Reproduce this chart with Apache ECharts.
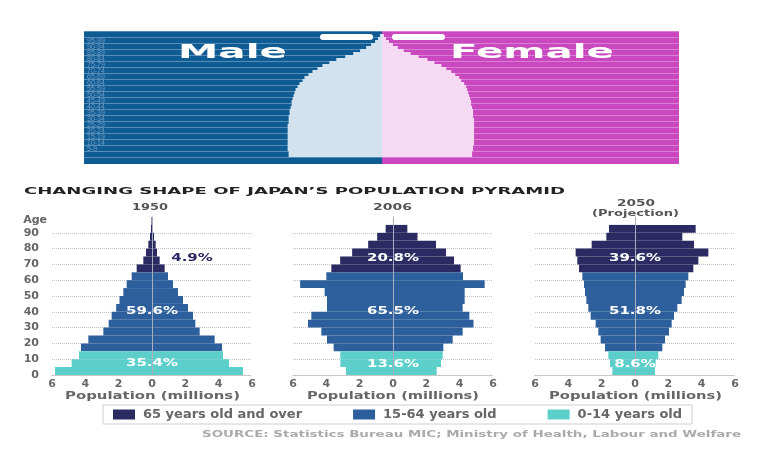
<!DOCTYPE html>
<html>
<head>
<meta charset="utf-8">
<script src="https://cdn.jsdelivr.net/npm/echarts@6/dist/echarts.min.js"></script>
<style>
  html, body { margin: 0; padding: 0; background: #fff; }
  #chart { width: 767px; height: 449px; }
</style>
</head>
<body>
<div id="chart"></div>
<script>
// 5-year age bands, bottom to top
const ageBands = ['0-4', '5-9', '10-14', '15-19', '20-24', '25-29', '30-34', '35-39', '40-44', '45-49',
  '50-54', '55-59', '60-64', '65-69', '70-74', '75-79', '80-84', '85-89', '90-94', '95-99']

// population per band, millions (male drawn to the left)
const male1950 = [5.82, 4.82, 4.38, 4.26, 3.82, 2.92, 2.6, 2.42, 2.15, 1.95, 1.72, 1.52, 1.22, 0.92, 0.52, 0.36, 0.22, 0.12, 0.06, 0.03]
const female1950 = [5.46, 4.62, 4.26, 4.2, 3.76, 2.86, 2.6, 2.46, 2.16, 1.86, 1.56, 1.26, 0.96, 0.76, 0.46, 0.3, 0.22, 0.12, 0.06, 0.03]
const male2006 = [2.82, 3.16, 3.16, 3.56, 3.96, 4.3, 5.1, 4.9, 3.96, 3.96, 4.1, 5.57, 4.0, 3.7, 3.17, 2.45, 1.49, 0.95, 0.44, 0]
const female2006 = [2.62, 2.88, 2.98, 3.02, 3.58, 4.18, 4.83, 4.58, 4.18, 4.3, 4.3, 5.5, 4.2, 4.06, 3.66, 3.18, 2.58, 1.47, 0.86, 0]
const male2050 = [1.36, 1.5, 1.6, 1.8, 2.06, 2.2, 2.36, 2.66, 2.8, 2.92, 3.0, 3.06, 3.16, 3.36, 3.46, 3.56, 2.6, 1.72, 1.56, 0]
const female2050 = [1.2, 1.24, 1.4, 1.64, 1.8, 2.04, 2.2, 2.34, 2.54, 2.8, 2.94, 3.04, 3.2, 3.5, 3.8, 4.4, 3.54, 2.84, 3.64, 0]

const groupNames = ['65 years old and over', '15-64 years old', '0-14 years old']
const groupBands = [[13, 19], [3, 12], [0, 2]]
const groupColors = ['#2b2a63', '#2d5f9c', '#5ccfcb']

const years = ['1950', '2006', '2050']
const shares = [['4.9%', '59.6%', '35.4%'], ['20.8%', '65.5%', '13.6%'], ['39.6%', '51.8%', '8.6%']]

// banner pyramid: 42 half-bands (2.5 years), bottom to top, width index
const bannerAgeGroups = ['0-4', '5-9', '10-14', '15-19', '20-24', '25-29', '30-34', '35-39', '40-44', '45-49',
  '50-54', '55-59', '60-64', '65-69', '70-74', '75-79', '80-84', '85-89', '90-94', '95-99', '100+']
const bannerMale = [94, 94, 95, 95, 95, 95, 95, 95, 95, 95, 95, 94, 94, 94, 93, 93, 92, 91, 91, 90, 89,
  88, 87, 85, 83, 80, 78, 74, 70, 65, 60, 53, 46, 37, 29, 22, 16, 11, 7, 4, 2, 0]
const bannerFemale = [91, 91, 92, 92, 93, 93, 93, 93, 93, 93, 93, 93, 93, 92, 92, 92, 91, 90, 90, 89, 88,
  87, 86, 85, 83, 80, 78, 74, 70, 65, 60, 53, 46, 37, 29, 22, 16, 11, 7, 4, 2, 0]

// layout
const pyrLeft = [52, 293, 535]
const shareAt = [[[2.4, 74], [0, 40], [0, 7.5]], [[0, 74], [0, 40], [0, 7]], [[0, 74], [0, 40], [0, 7]]]
const shareColor = [['#2b2a63', '#fff', '#fff'], ['#fff', '#fff', '#fff'], ['#fff', '#fff', '#fff']]

const chart = echarts.init(document.getElementById('chart'))
const pyramids = [[male1950, female1950], [male2006, female2006], [male2050, female2050]]
const labelFont = 'DejaVu Sans'

const grids = pyrLeft.map(left => ({ left, top: 217, width: 200, height: 158 }))
grids.push({ left: 84, top: 31, width: 298, height: 126 })
grids.push({ left: 382, top: 31, width: 297, height: 126 })

const xAxes = pyrLeft.map((_, i) => ({
  type: 'value',
  gridIndex: i,
  min: -6,
  max: 6,
  interval: 2,
  axisLine: { show: true, onZero: false, lineStyle: { color: '#bbb', type: 'dotted' } },
  axisTick: { show: false },
  splitLine: { show: false },
  axisLabel: {
    formatter: v => Math.abs(v),
    color: '#666',
    fontWeight: 'bold',
    fontSize: 11,
    fontFamily: labelFont,
    margin: 4
  }
}))
xAxes.push({ type: 'value', gridIndex: 3, min: 0, max: 300, inverse: true, show: false })
xAxes.push({ type: 'value', gridIndex: 4, min: 0, max: 300, show: false })

const yAxes = []
pyrLeft.forEach((_, i) => {
  yAxes.push({
    type: 'category',
    gridIndex: i,
    data: ageBands,
    z: 5,
    axisLine: { show: true, onZero: true, lineStyle: { color: '#a9adc0', width: 1 } },
    axisTick: { show: false },
    axisLabel: { show: false },
    splitLine: { show: false }
  })
  yAxes.push({
    type: 'value',
    gridIndex: i,
    min: 0,
    max: 100,
    interval: 10,
    position: 'left',
    name: i === 0 ? 'Age' : '',
    nameLocation: 'end',
    nameGap: -3,
    nameTextStyle: {
      align: 'right', verticalAlign: 'middle', padding: [0, 5, 0, 0],
      color: '#666', fontWeight: 'bold', fontSize: 11, fontFamily: labelFont
    },
    axisLine: { show: false },
    axisTick: { show: false },
    axisLabel: {
      show: i === 0,
      formatter: v => (v === 100 ? '' : v),
      color: '#666',
      fontWeight: 'bold',
      fontSize: 11,
      fontFamily: labelFont,
      margin: 13
    },
    splitLine: {
      show: true,
      showMinLine: false,
      showMaxLine: false,
      lineStyle: { type: 'dotted', color: '#c4c4cc' }
    }
  })
})

const bannerBands = bannerMale.map((_, k) => String(k))
yAxes.push({
  type: 'category',
  gridIndex: 3,
  data: bannerBands,
  position: 'left',
  axisLine: { show: false, onZero: false },
  axisTick: { show: false },
  axisLabel: {
    inside: true,
    interval: 1,
    formatter: (v, idx) => bannerAgeGroups[idx / 2] || '',
    color: 'rgba(185,208,235,0.55)',
    fontSize: 7,
    margin: 3
  },
  splitLine: { show: true, interval: 1, lineStyle: { color: 'rgba(255,255,255,0.3)' } }
})
yAxes.push({
  type: 'category',
  gridIndex: 4,
  data: bannerBands,
  axisLine: { show: false, onZero: false },
  axisTick: { show: false },
  axisLabel: { show: false },
  splitLine: { show: true, interval: 1, lineStyle: { color: 'rgba(255,255,255,0.3)' } }
})

const series = []
pyramids.forEach(([male, female], i) => {
  groupBands.forEach(([lo, hi], g) => {
    [[male, -1], [female, 1]].forEach(([vals, sign]) => {
      series.push({
        name: groupNames[g],
        type: 'bar',
        xAxisIndex: i,
        yAxisIndex: 2 * i,
        stack: 'pyr' + i,
        barCategoryGap: '0%',
        silent: true,
        itemStyle: { color: groupColors[g] },
        data: vals.map((v, k) => (k >= lo && k <= hi ? sign * v : '-'))
      })
    })
  })
})
series.push({
  name: 'bannerMale', type: 'bar', xAxisIndex: 3, yAxisIndex: 6, barCategoryGap: '0%', silent: true,
  itemStyle: { color: '#d3e2ef' }, data: bannerMale
})
series.push({
  name: 'bannerFemale', type: 'bar', xAxisIndex: 4, yAxisIndex: 7, barCategoryGap: '0%', silent: true,
  itemStyle: { color: '#f6d9f3' }, data: bannerFemale
})

chart.setOption({
  animation: false,
  grid: grids,
  xAxis: xAxes,
  yAxis: yAxes,
  legend: {
    data: groupNames.map((name, g) => ({ name, icon: 'rect', itemStyle: { color: groupColors[g] } })),
    left: 103,
    top: 405,
    padding: [3, 10],
    itemGap: 51,
    itemWidth: 22,
    itemHeight: 10,
    borderColor: '#cfcfcf',
    borderWidth: 1,
    selectedMode: false,
    textStyle: { color: '#666', fontWeight: 'bold', fontSize: 13, fontFamily: labelFont, padding: [0, 0, 0, 3] }
  },
  series
})

// stretched text, the reference lettering is wide
const measure = document.createElement('canvas').getContext('2d')
const textEl = (text, cx, cy, font, sx, color) => ({
  type: 'text',
  x: cx,
  y: cy,
  scaleX: sx,
  z: 20,
  silent: true,
  style: { text, font, fill: color, align: 'center', verticalAlign: 'middle', textAlign: 'center', textVerticalAlign: 'middle' }
})
const fitText = (text, x0, x1, cy, font, color) => {
  measure.font = font
  const w = measure.measureText(text).width
  return textEl(text, (x0 + x1) / 2, cy, font, (x1 - x0) / w, color)
}

const titleFont = 'bold 9px "DejaVu Sans"'
const graphics = [
  { type: 'rect', z: -10, silent: true, shape: { x: 84, y: 31, width: 298, height: 133 }, style: { fill: '#0f5b94' } },
  { type: 'rect', z: -10, silent: true, shape: { x: 382, y: 31, width: 297, height: 133 }, style: { fill: '#c947bf' } },
  { type: 'rect', z: 10, silent: true, shape: { x: 320, y: 34, width: 53, height: 6, r: 3 }, style: { fill: '#ffffff' } },
  { type: 'rect', z: 10, silent: true, shape: { x: 392, y: 34, width: 53, height: 6, r: 3 }, style: { fill: '#ffffff' } },
  fitText('Male', 178, 287, 53, 'bold 19px "DejaVu Sans"', '#ffffff'),
  fitText('Female', 450, 614, 53, 'bold 19px "DejaVu Sans"', '#ffffff'),
  fitText('CHANGING SHAPE OF JAPAN\u2019S POPULATION PYRAMID', 24, 565, 192, titleFont, '#222'),
  fitText('1950', 132, 168, 207.5, titleFont, '#555'),
  fitText('2006', 373, 412, 207.5, titleFont, '#555'),
  fitText('2050', 617, 655, 204, titleFont, '#555'),
  fitText('(Projection)', 592, 679, 214, titleFont, '#555'),
  fitText('SOURCE: Statistics Bureau MIC; Ministry of Health, Labour and Welfare', 202, 741, 435, titleFont, '#aaa')
]
const popSpan = [[65, 240], [307, 479], [549, 722]]
popSpan.forEach(([a, b]) => graphics.push(fitText('Population (millions)', a, b, 396, 'bold 10px "DejaVu Sans"', '#666')))

shares.forEach((row, i) => {
  row.forEach((txt, j) => {
    const p = chart.convertToPixel({ xAxisIndex: i, yAxisIndex: 2 * i + 1 }, shareAt[i][j])
    graphics.push(textEl(txt, p[0], p[1], 'bold 10px "DejaVu Sans"', 1.5, shareColor[i][j]))
  })
})

chart.setOption({ graphic: graphics })
</script>
</body>
</html>
